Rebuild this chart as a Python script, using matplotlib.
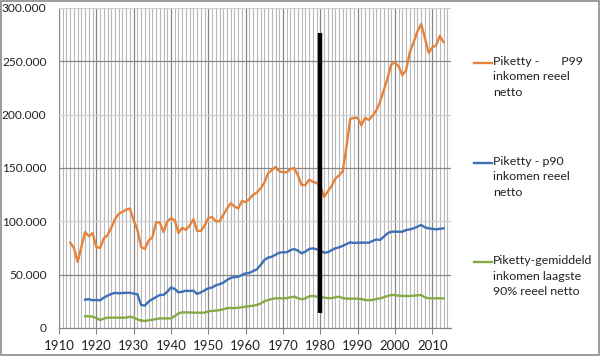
import matplotlib
matplotlib.use("Agg")
import matplotlib.pyplot as plt
from matplotlib.patches import Rectangle
from matplotlib.lines import Line2D
from matplotlib.ticker import FuncFormatter, MultipleLocator

plt.rcParams['font.family'] = ['Lato', 'DejaVu Sans']

years_p99 = list(range(1913, 2014))
p99 = [80, 75, 62, 76, 90, 86, 89, 76, 75, 84, 87, 94, 102, 107, 109, 111, 112, 101, 92, 76,
       74, 82, 85, 99, 99, 90, 100, 103, 101, 89, 94, 92, 96, 102, 91, 91, 96, 103, 104, 100,
       100, 106, 112, 117, 114, 112, 119, 118, 121, 125, 127, 131, 136, 145, 148, 151, 147, 146, 146, 149,
       150, 143, 134, 134, 139, 137, 136, 133, 123, 128, 133, 140, 143, 147, 170, 196, 197, 197, 190, 197,
       195, 199, 204, 212, 223, 234, 247, 249, 245, 237, 242, 259, 268, 278, 285, 272, 258, 263, 265, 274,
       268]

years_p90 = list(range(1917, 2014))
p90 = [26.6, 27, 26, 26.3, 26, 28.4, 30.3, 31.9, 33, 32.5, 32.8, 33, 33, 32.2, 31.6, 21.6, 21, 24.7, 27, 29,
       31, 31, 34, 38, 36.6, 33.4, 34, 35, 34.7, 35, 32, 33.4, 35.3, 37.2, 38, 40, 41, 42.5, 45, 47,
       47.8, 48, 49.7, 51.3, 51.6, 53.4, 55, 59, 63.7, 66, 66.8, 68.7, 70.6, 71, 71, 73, 74, 72.5, 70, 71.6,
       74, 74.7, 73.8, 72.5, 70.6, 71, 73, 74.7, 75.6, 77, 78.7, 80.3, 79.7, 80, 80, 80, 80, 81.6, 83, 82.5,
       85.6, 88.7, 90.3, 90.3, 90.3, 90.3, 91.9, 92.5, 93.4, 95, 96.6, 94.4, 93.4, 93, 92.5, 93, 93.4]

years_avg90 = list(range(1917, 2014))
avg90 = [11, 11, 10.6, 9.4, 7.5, 8.8, 9.7, 9.7, 9.7, 9.7, 9.7, 9.7, 10.6, 9.7, 8.1, 6.9, 6.6, 7.2, 7.8, 8.4,
         9, 9, 9, 9, 11.2, 13.7, 14.7, 14.6, 14.5, 14.4, 14.4, 14.4, 14.4, 15.6, 16, 16.3, 16.8, 17.5, 18.7, 18.7,
         18.7, 19, 19.5, 20, 20.4, 20.9, 21.6, 23, 25, 26.2, 27.2, 27.8, 27.8, 27.8, 28, 28.8, 29.4, 28, 26.9, 27.8,
         29.7, 30, 29.4, 28.8, 28.5, 28, 28, 28.8, 29.4, 28, 27.5, 27.5, 27.5, 27.5, 27.2, 26.2, 26.2, 26.2, 27.2, 27.8,
         28.8, 30, 30.9, 30.9, 30.3, 30, 30, 30, 30.3, 30.6, 30.9, 28.8, 27.8, 27.8, 27.8, 27.8, 27.8]

marker_year = 1980
marker_range = [13.8, 276.8]

labels = ["Piketty -       P99\ninkomen reeel\nnetto",
          "Piketty - p90\ninkomen reeel\nnetto",
          "Piketty-gemiddeld\ninkomen laagste\n90% reeel netto"]
colors = ['#E6823A', '#3F6FB5', '#86AA45']

fig = plt.figure(figsize=(6.0, 3.56), dpi=100)
ax = fig.add_axes([59/600, 1 - 328/356, (451-59)/600, (328-8)/356])

ax.set_xlim(1910, 2015)
ax.set_ylim(0, 300000)

# gridlines
for yr in range(1911, 2015):
    if yr % 10 != 0:
        ax.axvline(yr, color='#b8b8b8', lw=0.8, zorder=0)
for yr in range(1910, 2016, 10):
    ax.axvline(yr, color='#858585', lw=0.9, zorder=0)
for v in range(50000, 300001, 50000):
    c = '#878787' if (v // 50000) % 2 == 1 else '#cfcfcf'
    ax.axhline(v, color=c, lw=0.9, zorder=0)
ax.axvline(2015, color='#cfcfcf', lw=0.9, zorder=0)

series = [(years_p99, p99), (years_p90, p90), (years_avg90, avg90)]
for (xs, ys), c in zip(series, colors):
    ax.plot(xs, [v * 1000 for v in ys], color=c, lw=1.7, solid_joinstyle='round', zorder=3)

ax.plot([marker_year, marker_year], [v * 1000 for v in marker_range], color='black', lw=3.2,
        solid_capstyle='butt', zorder=4)

for s in ['top', 'right', 'left']:
    ax.spines[s].set_visible(False)
ax.spines['bottom'].set_color('#858585')
ax.spines['bottom'].set_linewidth(0.9)

ax.xaxis.set_major_locator(MultipleLocator(10))
ax.yaxis.set_major_locator(MultipleLocator(50000))
ax.yaxis.set_major_formatter(FuncFormatter(lambda v, p: '0' if v == 0 else f"{int(v):,}".replace(',', '.')))
ax.tick_params(axis='x', length=4, color='#858585', labelsize=9.5, pad=5, labelcolor='#222222')
ax.tick_params(axis='y', length=0, labelsize=8.6, pad=9, labelcolor='#222222')

# legend
first_lines = [63, 163, 262]
for lab, c, y0 in zip(labels, colors, first_lines):
    fy = 1 - y0 / 356
    fig.add_artist(Line2D([474/600, 492/600], [fy, fy], color=c, lw=1.7))
    fig.text(493/600, fy + 7/356, lab, fontsize=8.9, va='top', ha='left', color='#222222',
             linespacing=1.5, transform=fig.transFigure)

fig.add_artist(Rectangle((0.001, 0.002), 0.997, 0.995, transform=fig.transFigure,
                         fill=False, edgecolor='#8a8a8a', lw=1.2))

fig.savefig('out.png', dpi=100)
